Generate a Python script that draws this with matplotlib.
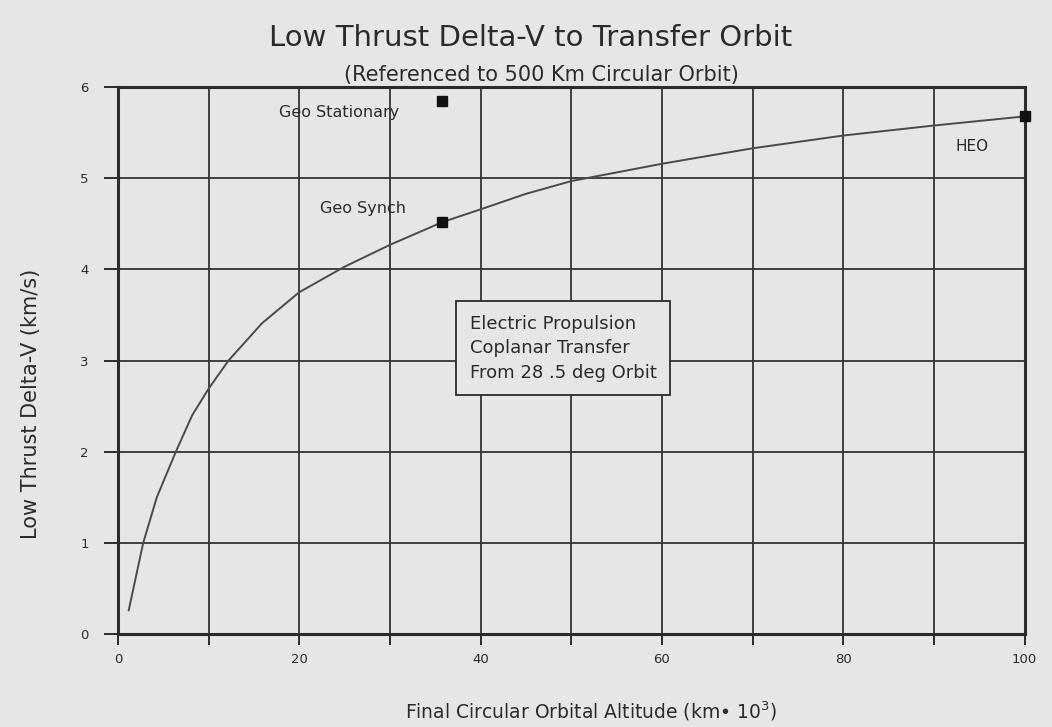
import matplotlib
matplotlib.use("Agg")
import matplotlib.pyplot as plt
import numpy as np

# curve: altitude (km*10^3) vs delta-V (km/s)
altitude = [1.2, 2.8, 4.3, 6.4, 8.2, 10, 12.2, 15.9, 20, 25, 30, 35.8, 40, 45, 50, 60, 70, 80, 90, 100]
delta_v = [0.26, 1.0, 1.5, 2.0, 2.4, 2.69, 3.0, 3.41, 3.75, 4.03, 4.27, 4.52, 4.66, 4.83, 4.97, 5.16, 5.33, 5.47, 5.58, 5.68]

# labelled orbits
orbit_names = ["Geo Stationary", "Geo Synch", "HEO"]
orbit_x = [35.8, 35.8, 100]
orbit_y = [5.85, 4.52, 5.68]

x_ticks = np.arange(0, 101, 10)
x_labels = ["0", "", "20", "", "40", "", "60", "", "80", "", "100"]
y_ticks = np.arange(0, 7, 1)

paper = "#e6e6e4"
ink = "#2b2b2b"

plt.rcParams["font.family"] = ["DejaVu Sans"]

fig = plt.figure(figsize=(10.52, 7.27), dpi=100, facecolor=paper)
ax = fig.add_axes([0.112, 0.128, 0.862, 0.752])
ax.set_facecolor(paper)

ax.set_xlim(0, 100)
ax.set_ylim(0, 6)
ax.set_xticks(x_ticks)
ax.set_xticklabels(x_labels)
ax.set_yticks(y_ticks)
ax.grid(True, color="#333333", linewidth=1.3)
ax.tick_params(axis="x", colors=ink, labelsize=9.5, length=8, width=1.4, pad=6)
ax.tick_params(axis="y", colors=ink, labelsize=9.5, length=10, width=1.4, pad=11)
for s in ax.spines.values():
    s.set_color(ink)
    s.set_linewidth(2.2)

ax.plot(altitude, delta_v, color="#4a4a4a", linewidth=1.4, clip_on=False)
ax.plot(orbit_x, orbit_y, "s", color="#111111", markersize=6.5, clip_on=False, zorder=5)

ax.text(24.4, 5.72, orbit_names[0], fontsize=11.5, color=ink, ha="center", va="center")
ax.text(27.0, 4.67, orbit_names[1], fontsize=11.5, color=ink, ha="center", va="center")
ax.text(94.2, 5.35, orbit_names[2], fontsize=11, color=ink, ha="center", va="center")

ax.text(38.8, 3.50, "Electric Propulsion\nCoplanar Transfer\nFrom 28 .5 deg Orbit",
        fontsize=13, color=ink, ha="left", va="top", linespacing=1.45,
        bbox=dict(boxstyle="square,pad=0.75", facecolor=paper, edgecolor=ink, linewidth=1.3))

fig.text(0.562, 0.022, "Final Circular Orbital Altitude (km\u2022 10$^3$)", fontsize=13.5, color=ink,
         ha="center", va="center")
fig.text(0.029, 0.445, "Low Thrust Delta-V (km/s)", fontsize=15, color=ink,
         ha="center", va="center", rotation=90)

fig.text(0.504, 0.948, "Low Thrust Delta-V to Transfer Orbit", fontsize=21, color=ink, ha="center", va="center")
fig.text(0.515, 0.897, "(Referenced to 500 Km Circular Orbit)", fontsize=15, color=ink, ha="center", va="center")

fig.savefig("out.png", dpi=100, facecolor=paper)
